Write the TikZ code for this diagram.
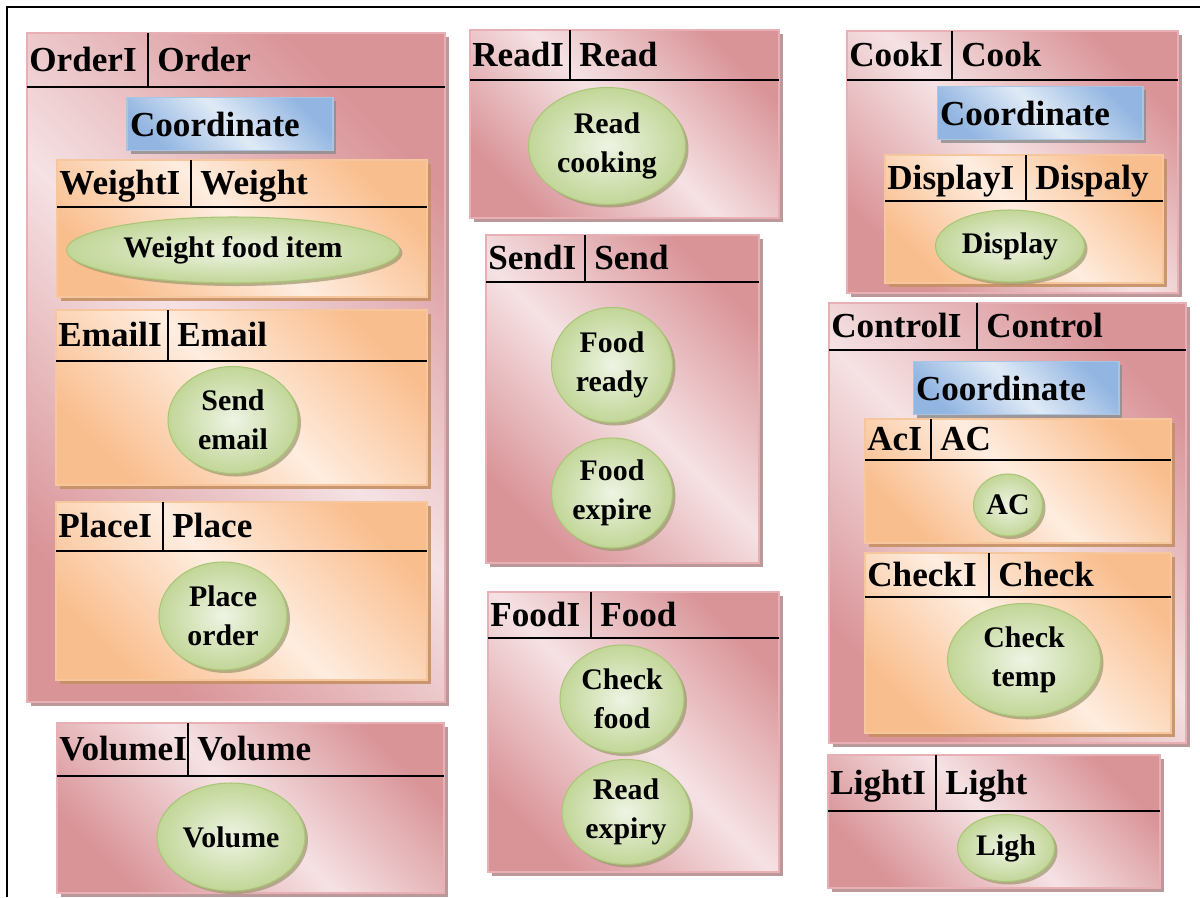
\documentclass[tikz,border=0pt]{standalone}
\usepackage{fontspec}
\setmainfont{Liberation Serif}
\usetikzlibrary{shapes.geometric,shadows}

\definecolor{pinkD}{RGB}{217,148,152}
\definecolor{pinkL}{RGB}{245,226,228}
\definecolor{pinkB}{RGB}{232,176,180}
\definecolor{pinkS}{RGB}{180,142,144}
\definecolor{orangeD}{RGB}{249,190,142}
\definecolor{orangeL}{RGB}{254,237,224}
\definecolor{orangeB}{RGB}{246,198,156}
\definecolor{orangeS}{RGB}{198,144,100}
\definecolor{blueD}{RGB}{146,181,225}
\definecolor{blueL}{RGB}{224,234,246}
\definecolor{blueB}{RGB}{170,196,228}
\definecolor{greenD}{RGB}{194,214,152}
\definecolor{greenL}{RGB}{238,244,228}
\definecolor{greenB}{RGB}{168,198,118}

\begin{document}
\begin{tikzpicture}[x=0.02cm, y=-0.02cm,
    pinkbox/.style={rectangle, inner sep=0pt, draw=pinkB, line width=0.6pt,
      top color=pinkD, bottom color=pinkD, middle color=pinkL, shading angle=-45,
      drop shadow={shadow xshift=0.07cm, shadow yshift=-0.07cm, fill=pinkS, opacity=0.9}},
    orangebox/.style={rectangle, inner sep=0pt, draw=orangeB, line width=0.6pt,
      top color=orangeD, bottom color=orangeD, middle color=orangeL, shading angle=-45,
      drop shadow={shadow xshift=0.07cm, shadow yshift=-0.07cm, fill=orangeS, opacity=0.9}},
    coordbox/.style={rectangle, inner xsep=0.06cm, inner ysep=0pt, text width=4cm,
      minimum height=1.06cm, align=left, draw=blueB, line width=0.6pt,
      top color=blueD, bottom color=blueD, middle color=blueL, shading angle=-45,
      font=\fontsize{20}{24}\selectfont\bfseries,
      drop shadow={shadow xshift=0.07cm, shadow yshift=-0.07cm, fill=black!45, opacity=0.8}},
    op/.style={ellipse, inner sep=0pt, align=center, draw=greenB, line width=0.6pt,
      inner color=greenL, outer color=greenD,
      font=\fontsize{17}{22}\selectfont\bfseries,
      drop shadow={shadow xshift=0.06cm, shadow yshift=-0.06cm, fill=black!50!olive!60, opacity=0.7}},
    hdtext/.style={anchor=base west, inner sep=0pt, font=\fontsize{20}{24}\selectfont\bfseries},
    hdline/.style={line width=1pt},
    frame/.style={line width=1.2pt}]

  \useasboundingbox (0,0) rectangle (1200,897);
  \draw[frame] (7,897) -- (7,7) -- (1200,7);

  % interfaces: style/name/x1/y1/x2/y2/header line/separator/id/name
  \foreach \s/\n/\xa/\ya/\xb/\yb/\hy/\sx/\la/\lb in {
      pinkbox/order/27/33/445/702/87/148/OrderI/Order,
      pinkbox/read/470/30/779/218/80/570/ReadI/Read,
      pinkbox/send/486/235/759/563/282/585/SendI/Send,
      pinkbox/food/488/592/779/872/638/591/FoodI/Food,
      pinkbox/volume/57/723/444/893/776/188/VolumeI/Volume,
      pinkbox/cook/847/31/1178/293/80/952/CookI/Cook,
      pinkbox/control/829/303/1186/743/350/977/ControlI/Control,
      pinkbox/light/828/755/1160/888/811/936/LightI/Light,
      orangebox/weight/57/160/427/297/207/191/WeightI/Weight,
      orangebox/email/56/310/427/485/361/168/EmailI/Email,
      orangebox/place/56/502/427/680/551/163/PlaceI/Place,
      orangebox/display/885/155/1163/283/201/1026/DisplayI/Dispaly,
      orangebox/ac/865/419/1171/543/460/931/AcI/AC,
      orangebox/check/865/553/1171/733/597/989/CheckI/Check}
  {
    \node[\s, minimum width={(\xb-\xa)*0.02cm}, minimum height={(\yb-\ya)*0.02cm}]
      (\n) at ({(\xa+\xb)/2},{(\ya+\yb)/2}) {};
    \draw[hdline] (\xa,\hy) -- (\xb,\hy) (\sx,\ya) -- (\sx,\hy);
    \node[hdtext] (\n-id) at ({\xa+2},{(\ya+\hy)/2+11}) {\la};
    \node[hdtext] (\n-nm) at ({\sx+9},{(\ya+\hy)/2+11}) {\lb};
  }

  % coordinators
  \foreach \n/\x/\y in {ordercoord/230/124, cookcoord/1040/113, controlcoord/1016/388}
    \node[coordbox] (\n) at (\x,\y) {Coordinate};

  % operations
  \foreach \n/\x/\y/\w/\h/\t in {
      weightitem/233/250/333/66/Weight food item,
      sendemail/233/420/130/107/Send\\email,
      placeorder/223/616/128/108/Place\\order,
      volumeop/231/837/148/108/Volume,
      readcooking/607/146/157/117/Read\\cooking,
      foodready/612/365/121/115/Food\\ready,
      foodexpire/612/493/121/110/Food\\expire,
      checkfood/622/699/124/108/Check\\food,
      readexpiry/626/812/128/105/Read\\expiry,
      displayop/1010/246/149/72/Display,
      acop/1008/505/69/62/AC,
      checktemp/1024/660/153/113/Check\\temp,
      ligh/1006/848/97/67/Ligh}
    \node[op, minimum width=\w*0.02cm, minimum height=\h*0.02cm] (\n) at (\x,\y) {\t};

\end{tikzpicture}
\end{document}
